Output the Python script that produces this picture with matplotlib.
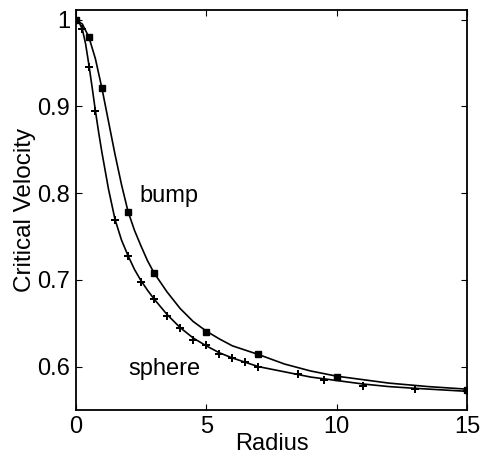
import matplotlib
matplotlib.use("Agg")
import matplotlib.pyplot as plt

plt.rcParams['font.family'] = ['Liberation Sans', 'DejaVu Sans']

# measured points
bump_r = [0, 0.5, 1, 2, 3, 5, 7, 10, 15]
bump_v = [1.0, 0.98, 0.921, 0.778, 0.708, 0.640, 0.614, 0.588, 0.573]
sphere_r = [0, 0.25, 0.5, 0.75, 1.5, 2, 2.5, 3, 3.5, 4, 4.5, 5, 5.5, 6, 6.5, 7,
            8.5, 9.5, 11, 13, 15]
sphere_v = [1.0, 0.989, 0.946, 0.895, 0.769, 0.728, 0.698, 0.678, 0.658, 0.645,
            0.631, 0.625, 0.615, 0.610, 0.605, 0.600, 0.591, 0.585, 0.578,
            0.574, 0.5715]

# fitted curves
bump_fit_r = [0, 0.25, 0.5, 0.75, 1.0, 1.25, 1.5, 1.75, 2.0, 2.25, 2.5, 2.75,
              3, 3.5, 4, 4.5, 5, 5.5, 6, 6.5, 7, 8, 9, 10, 11, 12, 13.5, 15]
bump_fit = [1.0, 0.995, 0.98, 0.955, 0.921, 0.883, 0.845, 0.810, 0.779, 0.757,
            0.739, 0.722, 0.708, 0.686, 0.667, 0.652, 0.641, 0.632, 0.624,
            0.619, 0.614, 0.603, 0.595, 0.589, 0.585, 0.581, 0.577, 0.574]
sphere_fit_r = [0, 0.125, 0.25, 0.375, 0.5, 0.625, 0.75, 0.875, 1.0, 1.25, 1.5,
                1.75, 2.0, 2.25, 2.5, 2.75, 3, 3.5, 4, 4.5, 5, 5.5, 6, 6.5, 7,
                8, 9, 10, 11, 12, 13, 15]
sphere_fit = [1.0, 0.997, 0.989, 0.972, 0.948, 0.922, 0.895, 0.870, 0.847,
              0.805, 0.770, 0.746, 0.728, 0.712, 0.699, 0.688, 0.678, 0.660,
              0.645, 0.633, 0.624, 0.616, 0.610, 0.605, 0.600, 0.594, 0.588,
              0.584, 0.580, 0.577, 0.575, 0.5715]

fig = plt.figure(figsize=(4.8, 4.63), dpi=100)
ax = fig.add_axes([0.158, 0.1145, 0.815, 0.8635])

ax.plot(bump_fit_r, bump_fit, color='black', lw=1.2)
ax.plot(sphere_fit_r, sphere_fit, color='black', lw=1.2)
ax.plot(bump_r, bump_v, linestyle='none', marker='s', ms=4.5, color='black')
ax.plot(sphere_r, sphere_v, linestyle='none', marker='P', ms=6, color='black',
        markeredgewidth=0)

ax.text(2.45, 0.797, 'bump', fontsize=17, va='center')
ax.text(2.0, 0.597, 'sphere', fontsize=17, va='center')

ax.set_xlim(0, 15)
ax.set_ylim(0.55, 1.011)
ax.set_xticks([0, 5, 10, 15])
ax.set_yticks([0.6, 0.7, 0.8, 0.9, 1.0])
ax.set_yticklabels(['0.6', '0.7', '0.8', '0.9', '1'])
ax.tick_params(direction='in', top=True, right=True, labelsize=17, length=4,
               pad=4)
for s in ax.spines.values():
    s.set_linewidth(1.3)

ax.set_xlabel('Radius', fontsize=17, labelpad=-3)
ax.set_ylabel('Critical Velocity', fontsize=17.5, labelpad=1)

plt.savefig('out.png', dpi=100)
